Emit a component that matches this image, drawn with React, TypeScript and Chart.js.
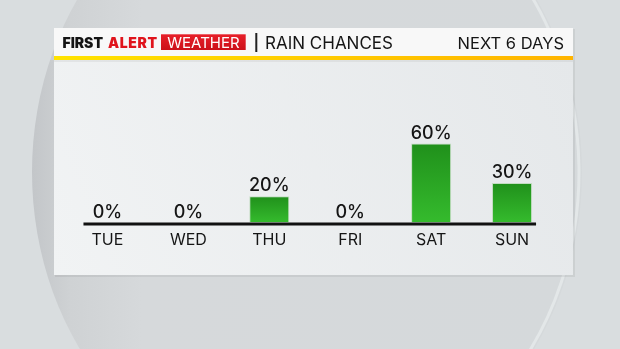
import React, { useEffect, useRef } from "react";
import { Chart, registerables } from "chart.js";

Chart.register(...registerables);

const days = ["TUE", "WED", "THU", "FRI", "SAT", "SUN"];
const rainChance = [0, 0, 20, 0, 60, 30];
const valueLabels = ["0%", "0%", "20%", "0%", "60%", "30%"];
const brandFirst = "FIRST";
const brandAlert = "ALERT";
const brandWeather = "WEATHER";
const headerTitle = "RAIN CHANCES";
const headerRight = "NEXT 6 DAYS";

const FONT = "Inter, 'Noto Sans', sans-serif";

const backgroundPlugin = {
  id: "tvBackground",
  beforeDraw(chart: any) {
    const ctx = chart.ctx as any;
    const W = chart.width;
    const H = chart.height;
    ctx.save();
    ctx.fillStyle = "#d9dddf";
    ctx.fillRect(0, 0, W, H);
    ctx.beginPath();
    ctx.ellipse(307, 172, 275, 314, 0, 0, Math.PI * 2);
    const g = ctx.createLinearGradient(32, 0, 582, 0);
    g.addColorStop(0, "#c3c6c9");
    g.addColorStop(0.07, "#cfd2d4");
    g.addColorStop(0.2, "#d6d9db");
    g.addColorStop(1, "#d5d9db");
    ctx.fillStyle = g;
    ctx.fill();
    ctx.beginPath();
    ctx.ellipse(307, 172, 272, 311, 0, -Math.PI / 2.6, Math.PI / 2.6);
    ctx.strokeStyle = "rgba(232,236,238,0.7)";
    ctx.lineWidth = 3;
    ctx.stroke();

    ctx.fillStyle = "rgba(0,0,0,0.06)";
    ctx.fillRect(55, 29, 520, 248);
    const pb = ctx.createLinearGradient(54, 275, 573, 60);
    pb.addColorStop(0, "#f1f3f4");
    pb.addColorStop(1, "#e5e8ea");
    ctx.fillStyle = pb;
    ctx.fillRect(54, 56, 519, 219);
    ctx.fillStyle = "#f8f8f8";
    ctx.fillRect(54, 28, 519, 28);
    const yb = ctx.createLinearGradient(54, 0, 573, 0);
    yb.addColorStop(0, "#ffe300");
    yb.addColorStop(1, "#ffb400");
    ctx.fillStyle = yb;
    ctx.fillRect(54, 56, 519, 4);
    ctx.fillStyle = "rgba(0,0,0,0.05)";
    ctx.fillRect(54, 60, 519, 2);

    ctx.textBaseline = "alphabetic";
    ctx.textAlign = "left";
    ctx.font = `900 14px ${FONT}`;
    ctx.letterSpacing = "0px";
    ctx.fillStyle = "#141414";
    ctx.fillText(brandFirst, 62.5, 47.5);
    ctx.letterSpacing = "0.6px";
    ctx.fillStyle = "#e0141c";
    ctx.fillText(brandAlert, 108, 47.5);
    ctx.letterSpacing = "0px";
    const rb = ctx.createLinearGradient(0, 34, 0, 50);
    rb.addColorStop(0, "#e8202a");
    rb.addColorStop(1, "#cc1019");
    ctx.fillStyle = rb;
    ctx.fillRect(161, 34.3, 84.7, 15.7);
    ctx.fillStyle = "#ffffff";
    ctx.font = `400 15px ${FONT}`;
    ctx.textAlign = "center";
    ctx.fillText(brandWeather, 203.5, 48);
    ctx.fillStyle = "#222";
    ctx.fillRect(255.3, 33, 2, 19);
    ctx.fillStyle = "#151515";
    ctx.font = `400 17px ${FONT}`;
    ctx.textAlign = "left";
    ctx.fillText(headerTitle, 265, 49);
    ctx.textAlign = "right";
    ctx.font = `400 16.5px ${FONT}`;
    ctx.fillText(headerRight, 564, 49);
    ctx.restore();
  },
};

const labelsPlugin = {
  id: "tvLabels",
  afterDatasetsDraw(chart: any) {
    const ctx = chart.ctx as CanvasRenderingContext2D;
    const xs = chart.scales.x;
    const ys = chart.scales.y;
    const y0 = ys.getPixelForValue(0);
    ctx.save();
    ctx.strokeStyle = "#111";
    ctx.lineWidth = 2.8;
    ctx.beginPath();
    ctx.moveTo(xs.getPixelForValue(0) - 24, y0 + 1.5);
    ctx.lineTo(xs.getPixelForValue(days.length - 1) + 24, y0 + 1.5);
    ctx.stroke();
    ctx.fillStyle = "#151515";
    ctx.textAlign = "center";
    ctx.textBaseline = "alphabetic";
    ctx.font = `500 18px ${FONT}`;
    rainChance.forEach((v, i) => {
      const x = xs.getPixelForValue(i);
      const top = ys.getPixelForValue(v);
      ctx.fillText(valueLabels[i], x, top - 5);
    });
    ctx.font = `400 16px ${FONT}`;
    days.forEach((d, i) => {
      ctx.fillText(d, xs.getPixelForValue(i), y0 + 22.5);
    });
    ctx.restore();
  },
};

export default function App() {
  const ref = useRef<HTMLCanvasElement | null>(null);
  useEffect(() => {
    document.body.style.margin = "0";
    if (!ref.current) return;
    const chart = new Chart(ref.current, {
      type: "bar",
      data: {
        labels: days,
        datasets: [
          {
            data: rainChance,
            backgroundColor: (c: any) => {
              const fallback = "#2aa523";
              if (c.type !== "data") return fallback;
              const ch = c.chart;
              const ys = ch.scales?.y;
              if (!ys) return fallback;
              const top = ys.getPixelForValue(c.raw);
              const bottom = ys.getPixelForValue(0);
              if (!isFinite(top) || !isFinite(bottom) || bottom - top < 1) return fallback;
              const g = ch.ctx.createLinearGradient(0, top, 0, bottom);
              g.addColorStop(0, "#20901b");
              g.addColorStop(1, "#35bb2d");
              return g;
            },
            borderColor: "rgba(170,210,165,0.6)",
            borderWidth: { top: 1, left: 1, right: 1, bottom: 0 },
            borderSkipped: "bottom",
            barPercentage: 0.495,
            categoryPercentage: 1,
          },
        ],
      },
      options: {
        responsive: false,
        animation: false,
        layout: { padding: { left: 67, right: 67.5, top: 91, bottom: 126.5 } },
        plugins: { legend: { display: false }, tooltip: { enabled: false } },
        scales: {
          x: { display: false },
          y: { display: false, min: 0, max: 100 },
        },
      },
      plugins: [backgroundPlugin, labelsPlugin],
    });
    return () => chart.destroy();
  }, []);
  return (
    <div style={{ position: "fixed", left: 0, top: 0, width: 620, height: 349 }}>
      <canvas ref={ref} width={620} height={349} />
    </div>
  );
}
